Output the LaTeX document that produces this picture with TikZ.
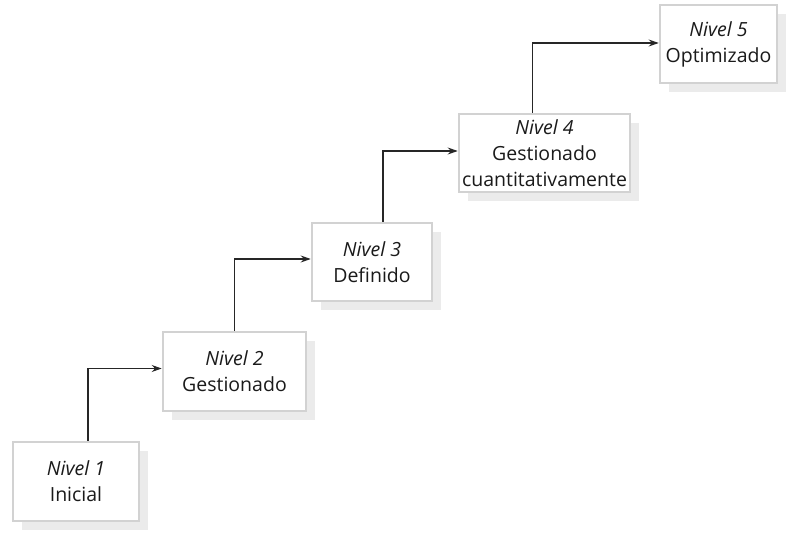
\documentclass[tikz,border=0pt]{standalone}
\usepackage{fontspec}
\setmainfont{Open Sans}
\usetikzlibrary{shadows,arrows.meta}
\definecolor{boxline}{HTML}{D2D2D2}
\definecolor{shadowgray}{HTML}{EBEBEB}
\definecolor{inktext}{HTML}{1A1A1A}
\tikzset{
  level/.style={draw=boxline, line width=2.6pt, fill=white, align=center,
    inner sep=0pt, text=inktext, font=\fontsize{19.5}{26}\selectfont,
    general shadow={fill=shadowgray, shadow xshift=9pt, shadow yshift=-9pt}},
  arr/.style={draw=black!85, line width=1.1pt, -{Stealth[length=10pt,width=7pt]}}
}
\begin{document}
\begin{tikzpicture}[x=1pt,y=-1pt]
\useasboundingbox (0,0) rectangle (810,534);
\node[level, minimum width=126pt, minimum height=79pt] (b1) at (76,481.5) {\textit{Nivel 1}\\Inicial};
\node[level, minimum width=143pt, minimum height=79pt] (b2) at (234.5,371.5) {\textit{Nivel 2}\\Gestionado};
\node[level, minimum width=120pt, minimum height=78pt] (b3) at (372,262) {\textit{Nivel 3}\\Definido};
\node[level, minimum width=171pt, minimum height=78pt] (b4) at (544.5,153) {\textit{Nivel 4}\\Gestionado\\cuantitativamente};
\node[level, minimum width=117pt, minimum height=78pt] (b5) at (718.5,44) {\textit{Nivel 5}\\Optimizado};
\draw[arr] ([xshift=12pt]b1.north) |- ([yshift=3pt]b2.west);
\draw[arr] (b2.north) |- ([yshift=3pt]b3.west);
\draw[arr] ([xshift=11pt]b3.north) |- ([yshift=2pt]b4.west);
\draw[arr] ([xshift=-12pt]b4.north) |- ([yshift=1pt]b5.west);
\end{tikzpicture}
\end{document}
